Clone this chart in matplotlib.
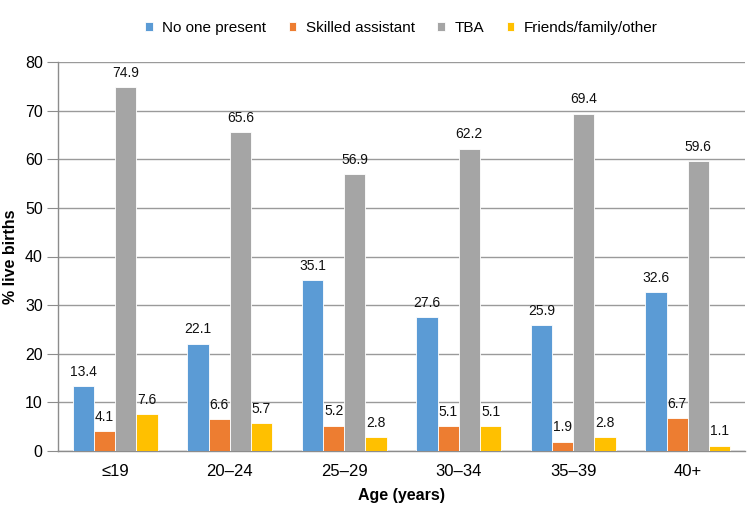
import matplotlib
matplotlib.use("Agg")
import matplotlib.pyplot as plt
import numpy as np

categories = ["≤19", "20–24", "25–29", "30–34", "35–39", "40+"]
series_names = ["No one present", "Skilled assistant", "TBA", "Friends/family/other"]
no_one = [13.4, 22.1, 35.1, 27.6, 25.9, 32.6]
skilled = [4.1, 6.6, 5.2, 5.1, 1.9, 6.7]
tba = [74.9, 65.6, 56.9, 62.2, 69.4, 59.6]
friends = [7.6, 5.7, 2.8, 5.1, 2.8, 1.1]
colors = ["#5B9BD5", "#ED7D31", "#A5A5A5", "#FFC000"]
yticks = [0, 10, 20, 30, 40, 50, 60, 70, 80]

plt.rcParams['font.family'] = ['Liberation Sans', 'DejaVu Sans']

fig = plt.figure(figsize=(7.5, 5.05), dpi=100)
L, R, T, B = 58, 745, 62, 451
ax = fig.add_axes([L/750, 1-B/505, (R-L)/750, (B-T)/505])

data = [no_one, skilled, tba, friends]
x = np.arange(len(categories))
w = 0.185
offsets = (np.arange(4) - 1.5) * w
for i, (vals, name, c) in enumerate(zip(data, series_names, colors)):
    bars = ax.bar(x + offsets[i], vals, w, color=c, label=name, edgecolor='white', linewidth=0.6, zorder=3)
    for b, v in zip(bars, vals):
        ax.text(b.get_x() + b.get_width()/2, v + 1.5, f"{v:.1f}", ha='center', va='bottom',
                fontsize=10, color='#111111', zorder=4)

ax.set_xlim(-0.5, len(categories) - 0.5)
ax.set_ylim(0, 80)
ax.set_yticks(yticks)
ax.set_yticklabels([str(t) for t in yticks], fontsize=11.5)
ax.set_xticks(x)
ax.set_xticklabels(categories, fontsize=12)
ax.tick_params(axis='x', length=0, pad=9)
ax.tick_params(axis='y', length=8, color='#8c8c8c', pad=3, direction='out')
ax.yaxis.grid(True, color='#9a9a9a', linewidth=1.0, zorder=0)
ax.set_axisbelow(True)
for s in ['top', 'right']:
    ax.spines[s].set_visible(False)
for s in ['left', 'bottom']:
    ax.spines[s].set_color('#8c8c8c')
    ax.spines[s].set_linewidth(1.0)

ax.set_ylabel("% live births", fontsize=11.5, fontweight='bold', va='center')
ax.yaxis.set_label_coords((11 - L) / (R - L), 0.5)
ax.set_xlabel("Age (years)", fontsize=11.5, fontweight='bold', labelpad=7)

leg = ax.legend(loc='center', bbox_to_anchor=(0.5, 1 + 34/(B-T)), ncol=4, frameon=False,
                handlelength=0.5, handleheight=0.5, handletextpad=0.65, columnspacing=1.45,
                prop={'size': 11})

fig.savefig("out.png", dpi=100)
